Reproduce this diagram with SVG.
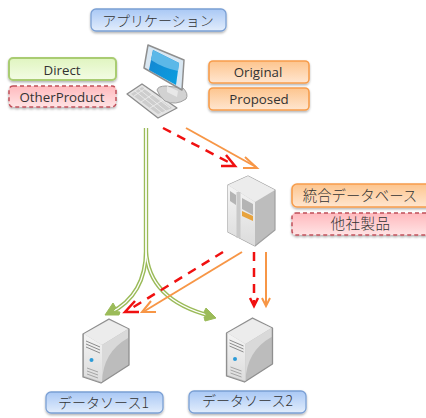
<svg xmlns="http://www.w3.org/2000/svg" width="426" height="418" viewBox="0 0 426 418">
<defs>
<linearGradient id="gB" x1="0" y1="0" x2="0" y2="1"><stop offset="0" stop-color="#a9c8f5"/><stop offset="1" stop-color="#e2edfc"/></linearGradient>
<linearGradient id="gG" x1="0" y1="0" x2="0" y2="1"><stop offset="0" stop-color="#e0f5c0"/><stop offset="1" stop-color="#f3fce4"/></linearGradient>
<linearGradient id="gR" x1="0" y1="0" x2="0" y2="1"><stop offset="0" stop-color="#ffb9bd"/><stop offset="1" stop-color="#ffe3e4"/></linearGradient>
<linearGradient id="gO" x1="0" y1="0" x2="0" y2="1"><stop offset="0" stop-color="#fdc58e"/><stop offset="1" stop-color="#ffe6d0"/></linearGradient>
<linearGradient id="gSrv" x1="0" y1="0" x2="0" y2="1"><stop offset="0" stop-color="#f4f4f4"/><stop offset="1" stop-color="#dcdcdc"/></linearGradient>
<linearGradient id="gScr" x1="0" y1="0" x2="1" y2="1"><stop offset="0" stop-color="#1583d0"/><stop offset="1" stop-color="#0aa0e0"/></linearGradient>
<filter id="sh" x="-10%" y="-20%" width="120%" height="150%"><feDropShadow dx="0" dy="1.5" stdDeviation="1" flood-color="#000" flood-opacity="0.3"/></filter>
<g id="tower">
<path d="M0 18 L26 3 L46 13 L46 49 L18 67 L0 61 Z" fill="#bcbcbc" stroke="#8f8f8f" stroke-width="1.3" stroke-linejoin="round"/>
<path d="M1 18 L26 4 L45 13 L19 29 Z" fill="#ececec"/>
<path d="M1 18 L19 29 L19 66 L1 60 Z" fill="url(#gSrv)"/>
<path d="M19 66 Q20 36 45 22 L45 13 L19 29 Z" fill="#d9d9d9"/>
<path d="M3 25 L17 31 M3 28 L17 34 M3 31 L17 37" stroke="#8c8c8c" stroke-width="1" fill="none"/>
<circle cx="8.500" cy="44" r="2" fill="#2b9bd8"/>
<path d="M4 52 L15 56 M4 55 L15 59 M4 58 L15 62" stroke="#a5a5a5" stroke-width="1" fill="none"/>
</g>
</defs>
<style>
text{font-family:"Noto Sans CJK JP","Open Sans","Liberation Sans",sans-serif;font-size:14px;font-weight:300;fill:#333;text-anchor:middle}
.l{font-family:"Open Sans","Noto Sans","Liberation Sans",sans-serif;font-size:13.300px;font-weight:400}
.b{fill:url(#gB);stroke:#7ba0d4;stroke-width:1.3;filter:url(#sh)}
.g{fill:url(#gG);stroke:#a9cc72;stroke-width:2;filter:url(#sh)}
.r{fill:url(#gR);stroke:#c0505a;stroke-width:1.5;stroke-dasharray:4 3;filter:url(#sh)}
.o{fill:url(#gO);stroke:#f79d4c;stroke-width:1.600;filter:url(#sh)}
.gl{fill:none;stroke:#9bbb59;stroke-width:4.200}
.gi{fill:none;stroke:#fff;stroke-width:1.300}
.gh{fill:#9bbb59;stroke:#9bbb59;stroke-width:1;stroke-linejoin:round}
.ol{fill:none;stroke:#f79646;stroke-width:2}
.rl{fill:none;stroke:#f01010;stroke-width:2.500;stroke-dasharray:9 7}
.rh{fill:none;stroke:#f01010;stroke-width:2.500}
</style>
<g id="connectors">
<path class="gl" d="M146 128 V250 Q146 295 110 313"/>
<path class="gl" d="M146 128 V250 Q148 300 211 316"/>
<path class="gi" d="M146 128 V250 Q146 295 110 313"/>
<path class="gi" d="M146 128 V250 Q148 300 211 316"/>
<path class="gh" d="M105 315 L113 303 L116 308 L113 311 L120 312 L119 315 Z"/>
<path class="gh" d="M216 318 L206 308 L204 312 L207 316 L204 317 L205 321 Z"/>
<path class="ol" d="M186 128 L256 167"/>
<path class="ol" d="M245 157 L257 168 L243 168"/>
<path class="rl" d="M163 128 L234 165"/>
<path class="rh" d="M226 155 L235 166 L221 166"/>
<path class="ol" d="M242 252 L143 312"/>
<path class="ol" d="M151 301 L142 312 L156 312"/>
<path class="rl" d="M223 252 L127 311"/>
<path class="rh" d="M135 301 L125 312 L139 312"/>
<path class="rl" d="M254 252 V303"/>
<path class="rh" d="M250 298 L254 306 L258 298"/>
<path class="ol" d="M266 252 V305"/>
<path class="ol" d="M262 298 L266 306 L270 298"/>
</g>
<g id="node-app"><rect class="b" x="91" y="9" width="135" height="22" rx="5"/><text x="158" y="25.500">アプリケーション</text></g>
<g id="node-direct"><rect class="g" x="9" y="58" width="107" height="22" rx="4"/><text class="l" x="62" y="74.500">Direct</text></g>
<g id="node-other"><rect class="r" x="9" y="86" width="107" height="21" rx="4"/><text class="l" x="62" y="102">OtherProduct</text></g>
<g id="node-original"><rect class="o" x="209" y="61" width="100" height="22" rx="4"/><text class="l" x="258" y="77">Original</text></g>
<g id="node-proposed"><rect class="o" x="209" y="88" width="100" height="22" rx="4"/><text class="l" x="259" y="104">Proposed</text></g>
<g id="node-client">
<path d="M127 94 L142 84 L177 108 L158 118 Z" fill="#e4e4e4" stroke="#8c8c8c" stroke-width="1.300" stroke-linejoin="round"/>
<path d="M131 94 L142 87 L172 108 L158 114 Z" fill="#cdcdcd"/>
<path d="M135 91 L162 113 M139 89 L166 111 M144 88 L170 108 M134 96 L146 88 M141 102 L153 94 M150 108 L163 100" stroke="#efefef" stroke-width="0.800" fill="none"/>
<path d="M157 90 Q158 86 166 86 L183 88 Q189 94 186 99 Q176 106 165 101 Q159 96 157 90 Z" fill="#d2d2d2" stroke="#a0a0a0" stroke-width="1"/>
<path d="M167 86 L178 91 L177 97 L167 92 Z" fill="#e8e8e8"/>
<path d="M148 45 L184 60 L182 90 L144 68 Z" fill="#d9e7f2" stroke="#8f8f8f" stroke-width="1.500" stroke-linejoin="round"/>
<path d="M153 50 L179 63 L176 85 L149 70 Z" fill="url(#gScr)"/>
<path d="M153 50 L179 63 L178 71 Q163 68 151 60 Z" fill="#5cb8e8"/>
</g>
<g id="node-db">
<path d="M228 185 L248 176 L275 190 L275 230 L255 246 L228 232 Z" fill="#bdbdbd" stroke="#a0a0a0" stroke-width="1.200" stroke-linejoin="round"/>
<path d="M228 185 L248 176 L275 190 L255 202 Z" fill="#ececec"/>
<path d="M228 185 L255 202 L255 246 L228 232 Z" fill="url(#gSrv)"/>
<path d="M238.500 192 V238" stroke="#c9c9c9" stroke-width="4"/>
<path d="M230 191 L236 195 V205 L230 201 Z M242 198 L253 204 V215 L242 209 Z" fill="#b4b4b4"/>
<path d="M242 211 L253 216 V221 L242 216 Z" fill="#e8a33d"/>
</g>
<g id="node-integrated"><rect class="o" x="292" y="184" width="140" height="23" rx="5"/><text x="360" y="201" style="font-size:14.400px">統合データベース</text></g>
<g id="node-other-jp"><rect class="r" x="292" y="213" width="140" height="22" rx="4"/><text x="360.500" y="229" style="font-size:14.500px;letter-spacing:0.500px">他社製品</text></g>
<use id="node-server1" href="#tower" x="83" y="316"/>
<use id="node-server2" href="#tower" x="226.500" y="315"/>
<g id="node-src1"><rect class="b" x="46" y="392" width="117" height="21" rx="5"/><text x="103.500" y="408">データソース1</text></g>
<g id="node-src2"><rect class="b" x="189" y="391" width="117" height="22" rx="5"/><text x="247.500" y="406">データソース2</text></g>
</svg>
